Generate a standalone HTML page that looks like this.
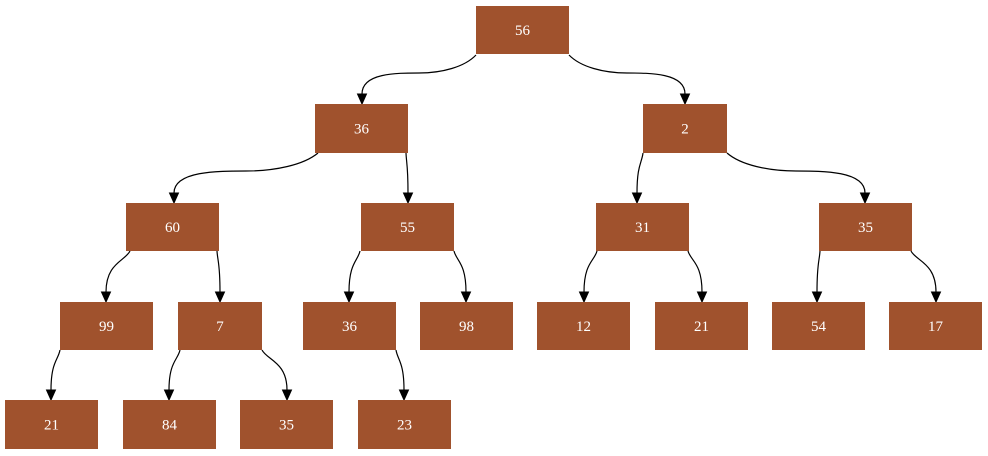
<!DOCTYPE html>
<html><head><meta charset="utf-8"><style>
html,body{margin:0;padding:0;background:#fff;width:988px;height:456px;overflow:hidden}
text{font-family:"Liberation Serif",serif;font-size:15px;fill:#fff}
</style></head><body>
<svg id="s" width="988" height="456" xmlns="http://www.w3.org/2000/svg"></svg>
<script>
var s=document.getElementById('s'),h='';
var N=[[476,569,6,54,'56'],[315,408,104,153,'36'],[643,727,104,153,'2'],
[126,219,203,251,'60'],[361,454,203,251,'55'],[596,689,203,251,'31'],[819,912,203,251,'35'],
[60,153,302,350,'99'],[178,262,302,350,'7'],[303,396,302,350,'36'],[420,513,302,350,'98'],
[537,630,302,350,'12'],[655,748,302,350,'21'],[772,865,302,350,'54'],[889,982,302,350,'17'],
[5,98,400,449,'21'],[123,216,400,449,'84'],[240,333,400,449,'35'],[358,451,400,449,'23']];
var E=[[476,55,362,104],[569,55,685,104],[318,153,174,203],[406,153,408,203],[643,153,637,203],[727,153,865,203],
[130,251,106,302],[217,251,220,302],[360,251,349,302],[454,251,466,302],[597,251,584,302],[688,251,702,302],
[820,251,817,302],[911,251,936,302],[60,350,51,400],[180,350,169,400],[262,350,287,400],[396,350,404,400]];
E.forEach(function(e){var sx=e[0],sy=e[1],ex=e[2],ey=e[3],ty=ey-10;
var far=Math.abs(ex-sx)>40;
var mx=(sx+ex)/2;
if(far){h+='<path d="M'+sx+','+sy+' C'+(sx-(sx-ex)*0.1)+','+(sy+12)+' '+(sx+(ex-sx)*0.3)+','+(sy+18)+' '+mx+','+(sy+18)+' C'+(ex-(ex-sx)*0.3)+','+(sy+18)+' '+ex+','+(sy+18)+' '+ex+','+ty+'" fill="none" stroke="#000" stroke-width="1.2"/>';}
else{var b=(sx===ex)?4:0;h+='<path d="M'+sx+','+sy+' C'+(sx+(ex-sx)*0.2+b)+','+(sy+10)+' '+(ex+b)+','+(sy+12)+' '+ex+','+ty+'" fill="none" stroke="#000" stroke-width="1.2"/>';}
h+='<polygon points="'+(ex-4.5)+','+ty+' '+(ex+4.5)+','+ty+' '+ex+','+ey+'" fill="#000" stroke="#000"/>';});
N.forEach(function(n){h+='<rect x="'+n[0]+'" y="'+n[2]+'" width="'+(n[1]-n[0])+'" height="'+(n[3]-n[2])+'" fill="#a0522d"/>';
h+='<text x="'+((n[0]+n[1])/2)+'" y="'+((n[2]+n[3])/2+5)+'" text-anchor="middle">'+n[4]+'</text>';});
s.innerHTML=h;
</script>
</body></html>
